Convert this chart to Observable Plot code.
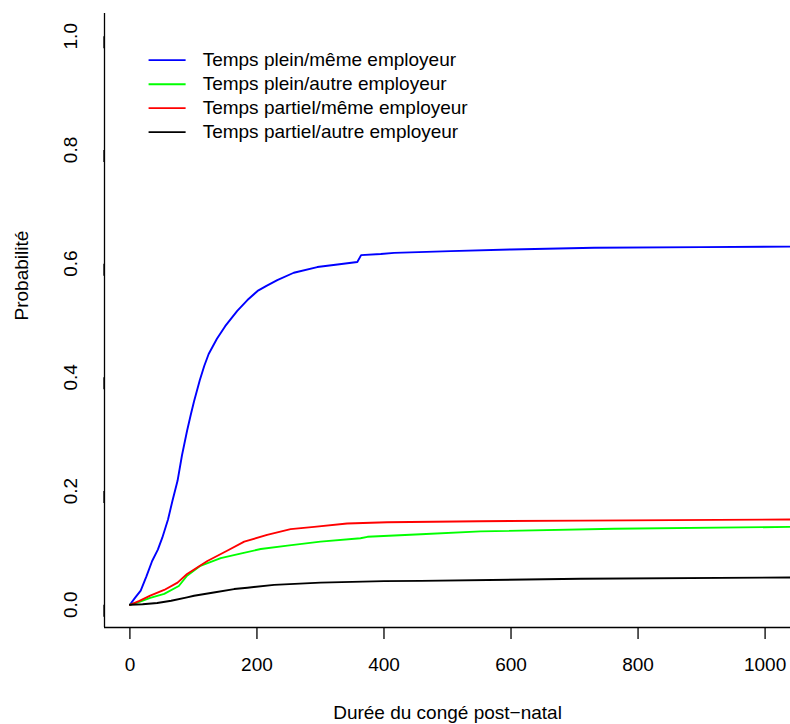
<!DOCTYPE html>
<html>
<head>
<meta charset="utf-8">
<script src="https://cdn.jsdelivr.net/npm/d3@7"></script>
<script src="https://cdn.jsdelivr.net/npm/@observablehq/plot@0.6"></script>
<style>
  html, body { margin: 0; padding: 0; background: #fff; }
  #chart svg { display: block; font-family: "Liberation Sans", Arial, Helvetica, sans-serif; }
</style>
</head>
<body>
<div id="chart"></div>
<script>
// ---- Data ----
const seriesNames = [
  "Temps plein/même employeur",
  "Temps plein/autre employeur",
  "Temps partiel/même employeur",
  "Temps partiel/autre employeur"
];
const seriesColors = ["#0000FF", "#00FF00", "#FF0000", "#000000"];

const bleuJours = [0, 8, 17, 26, 35, 44, 51, 60, 67, 75, 82, 90, 96, 101, 110, 117, 124, 137, 150, 169, 185, 201, 215, 232, 258, 295, 330, 358, 364, 395, 416, 505, 600, 731, 900, 1040];
const bleuProb  = [0, 0.012, 0.025, 0.050, 0.077, 0.097, 0.118, 0.150, 0.183, 0.218, 0.263, 0.306, 0.335, 0.358, 0.395, 0.420, 0.441, 0.468, 0.490, 0.517, 0.536, 0.552, 0.561, 0.571, 0.584, 0.594, 0.599, 0.603, 0.615, 0.617, 0.619, 0.622, 0.625, 0.628, 0.629, 0.630];

const vertJours = [0, 15, 32, 54, 77, 90, 111, 143, 174, 206, 248, 300, 363, 374, 458, 552, 762, 1040];
const vertProb  = [0, 0.005, 0.012, 0.019, 0.033, 0.051, 0.0685, 0.082, 0.090, 0.098, 0.104, 0.111, 0.117, 0.1195, 0.124, 0.129, 0.1336, 0.137];

const rougeJours = [0, 15, 32, 54, 75, 90, 122, 153, 180, 216, 253, 290, 342, 405, 550, 710, 1040];
const rougeProb  = [0, 0.007, 0.016, 0.026, 0.039, 0.054, 0.077, 0.095, 0.111, 0.123, 0.133, 0.137, 0.143, 0.145, 0.147, 0.148, 0.150];

const noirJours = [0, 20, 43, 65, 90, 101, 132, 164, 185, 227, 300, 400, 458, 710, 1040];
const noirProb  = [0, 0.0008, 0.003, 0.007, 0.013, 0.0158, 0.0216, 0.0276, 0.030, 0.035, 0.039, 0.0416, 0.042, 0.0457, 0.048];

const xTicks = [0, 200, 400, 600, 800, 1000];
const yTicks = [0, 0.2, 0.4, 0.6, 0.8, 1.0];
const xLabel = "Durée du congé post−natal";
const yLabel = "Probabilité";

// ---- Build table ----
const allJours = [bleuJours, vertJours, rougeJours, noirJours];
const allProb = [bleuProb, vertProb, rougeProb, noirProb];
const rows = [];
seriesNames.forEach((name, s) => {
  allJours[s].forEach((d, i) => rows.push({serie: name, jours: d, prob: allProb[s][i]}));
});

// layout (not data)
const xDomain = [-40, 1040];
const yDomain = [-0.04, 1.04];
const legX1 = 29.4, legX2 = 87.7, legTextX = 114.5;
const legY = [0.958, 0.9156, 0.8735, 0.8313];
const legend = seriesNames.map((n, i) => ({serie: n, y: legY[i]}));
const font = 19;

const chart = Plot.plot({
  width: 790,
  height: 724,
  marginLeft: 104,
  marginRight: 0,
  marginTop: 13,
  marginBottom: 97,
  style: {fontSize: font + "px", fontFamily: '"Liberation Sans", Arial, Helvetica, sans-serif', color: "#000", background: "#fff"},
  x: {domain: xDomain},
  y: {domain: yDomain},
  color: {domain: seriesNames, range: seriesColors},
  marks: [
    Plot.line(rows, {x: "jours", y: "prob", z: "serie", stroke: "serie", strokeWidth: 1.9, clip: true}),
    Plot.ruleX([xDomain[0]], {y1: yDomain[0], y2: yDomain[1], stroke: "#000", strokeWidth: 1.3}),
    Plot.ruleY([yDomain[0]], {x1: xDomain[0], x2: xDomain[1], stroke: "#000", strokeWidth: 1.3}),
    Plot.axisX({ticks: xTicks, tickSize: 12, tickPadding: 18, fontSize: font, label: null, tickFormat: d => String(d), stroke: "#000", strokeWidth: 1.3, strokeOpacity: 1}),
    Plot.axisY({ticks: yTicks, tickSize: 12, tickPadding: 22, fontSize: font, label: null, rotate: -90, textAnchor: "middle", lineAnchor: "middle", tickFormat: d3.format(".1f"), stroke: "#000", strokeWidth: 1.3, strokeOpacity: 1}),
    Plot.text([xLabel], {frameAnchor: "bottom", dy: 85, lineAnchor: "middle", fontSize: font, fill: "#000"}),
    Plot.text([yLabel], {frameAnchor: "left", dx: -83, rotate: -90, lineAnchor: "middle", fontSize: font, fill: "#000"}),
    Plot.link(legend, {x1: () => legX1, x2: () => legX2, y1: "y", y2: "y", stroke: "serie", strokeWidth: 1.9}),
    Plot.text(legend, {x: () => legTextX, y: "y", text: "serie", textAnchor: "start", lineAnchor: "middle", fontSize: font, fill: "#000"})
  ]
});
document.getElementById("chart").appendChild(chart);
</script>
</body>
</html>
